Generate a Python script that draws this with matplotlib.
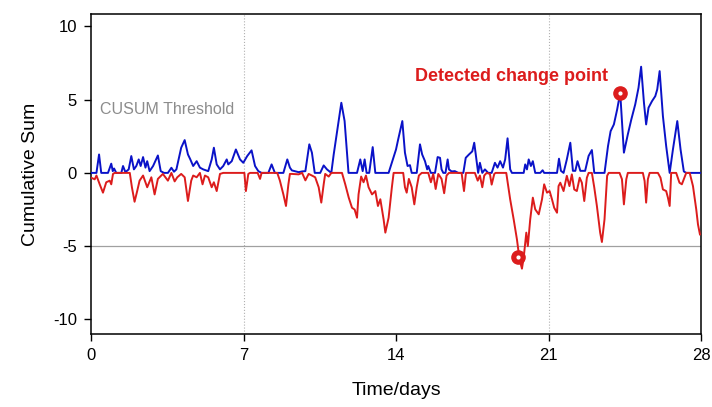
"""CUSUM chart: upper and lower cumulative sums over 28 days with detected change points."""

import matplotlib

matplotlib.use("Agg")
import matplotlib.pyplot as plt

plt.rcParams["font.family"] = ["Liberation Sans", "DejaVu Sans"]
plt.rcParams["axes.unicode_minus"] = False

# Upper CUSUM (blue).
upper_days = [
    0.01, 0.25, 0.37, 0.47, 0.78, 0.93, 1.00, 1.06, 1.16, 1.39, 1.47, 1.58, 1.73, 1.85,
    1.97, 2.08, 2.19, 2.28, 2.39, 2.50, 2.58, 2.69, 2.85, 3.07, 3.20, 3.35, 3.53, 3.69,
    3.81, 3.92, 4.14, 4.30, 4.45, 4.55, 4.69, 4.85, 5.00, 5.15, 5.38, 5.54, 5.64, 5.77,
    5.92, 6.07, 6.23, 6.30, 6.46, 6.65, 6.84, 6.99, 7.17, 7.37, 7.53, 7.68, 7.83, 8.14,
    8.29, 8.44, 8.83, 9.01, 9.13, 9.22, 9.53, 9.69, 9.84, 10.02, 10.14, 10.27, 10.52,
    10.68, 10.83, 11.03, 11.14, 11.49, 11.64, 11.82, 12.21, 12.36, 12.47, 12.56, 12.65,
    12.77, 12.93, 13.05, 13.66, 14.00, 14.10, 14.29, 14.41, 14.53, 14.64, 14.72, 14.95,
    15.10, 15.20, 15.33, 15.43, 15.48, 15.60, 15.79, 15.91, 16.02, 16.09, 16.17, 16.27,
    16.37, 16.43, 16.55, 16.70, 16.86, 17.09, 17.20, 17.35, 17.50, 17.59, 17.70, 17.77,
    17.85, 17.96, 18.08, 18.23, 18.39, 18.54, 18.66, 18.78, 18.91, 19.01, 19.12, 19.24,
    19.32, 19.86, 19.93, 20.01, 20.09, 20.19, 20.28, 20.39, 20.62, 20.73, 20.80, 21.39,
    21.48, 21.57, 21.69, 21.84, 22.00, 22.12, 22.23, 22.33, 22.46, 22.68, 22.84, 22.99,
    23.10, 23.57, 23.73, 23.85, 24.00, 24.15, 24.29, 24.46, 24.64, 24.80, 24.98, 25.13,
    25.25, 25.38, 25.48, 25.59, 25.75, 25.90, 25.99, 26.10, 26.25, 26.40, 26.56, 26.71,
    26.91, 27.06, 27.21, 27.32, 27.95,
]
upper_values = [
    0.00, 0.00, 1.26, 0.00, 0.00, 0.63, 0.12, 0.30, 0.00, 0.00, 0.47, 0.05, 0.24, 1.15,
    0.24, 0.47, 0.92, 0.47, 1.08, 0.36, 0.80, 0.12, 0.47, 1.19, 0.12, 0.00, 0.00, 0.35,
    0.08, 0.24, 1.72, 2.24, 1.26, 0.95, 0.47, 0.80, 0.36, 0.24, 0.12, 0.92, 1.72, 0.58,
    0.24, 0.47, 0.92, 0.58, 0.80, 1.60, 0.92, 0.69, 1.15, 1.54, 0.47, 0.12, 0.00, 0.00,
    0.58, 0.00, 0.00, 0.92, 0.36, 0.17, 0.05, 0.10, 0.12, 1.95, 1.38, 0.00, 0.00,
    0.51, 0.24, 0.00, 1.26, 4.79, 3.54, 0.00, 0.00, 0.92, 0.12, 0.92, 0.00,
    0.00, 1.76, 0.00, 0.00, 1.60, 2.29, 3.54, 1.38, 0.47, 0.53, 0.00, 0.00,
    1.95, 1.26, 0.80, 0.24, 0.47, 0.00, 0.00, 1.08, 1.03, 0.24, 0.00, 0.00,
    0.92, 0.24, 0.10, 0.12, 0.00, 0.00, 1.03, 1.26, 1.47, 2.06, 0.80, 0.00,
    0.69, 0.00, 0.24, 0.00, 0.00, 0.69, 0.36, 0.80, 0.36, 0.92, 2.36, 0.24,
    0.00, 0.00, 0.58, 0.24, 0.92, 0.47, 0.80, 0.00, 0.00, 0.18, 0.00, 0.00,
    0.97, 0.14, 0.00, 0.92, 2.06, 0.14, 0.14, 0.80, 0.14, 0.14, 1.16, 1.56,
    0.00, 0.00, 1.83, 2.85, 3.31, 4.33, 5.47, 1.38, 2.63, 3.65, 4.68, 5.81,
    7.25, 4.79, 3.31, 4.45, 4.90, 5.24, 5.70, 6.95, 3.88, 1.83, 0.00, 1.60,
    3.54, 1.60, 0.10, 0.00, 0.00,
]

# Lower CUSUM (red).
lower_days = [
    0.01, 0.17, 0.25, 0.40, 0.55, 0.70, 0.86, 0.93, 1.01, 1.09, 1.78, 1.88, 2.00, 2.12,
    2.23, 2.39, 2.58, 2.77, 2.92, 3.07, 3.30, 3.53, 3.69, 3.84, 3.96, 4.14, 4.30, 4.45,
    4.60, 4.69, 4.85, 5.00, 5.12, 5.23, 5.38, 5.54, 5.64, 5.77, 5.92, 6.07, 7.04, 7.11,
    7.22, 7.30, 7.65, 7.76, 7.83, 8.55, 8.67, 8.83, 8.95, 9.06, 9.13, 9.22, 9.53, 9.69,
    9.84, 9.99, 10.14, 10.29, 10.45, 10.57, 10.68, 10.75, 10.91, 11.03, 11.52, 11.67,
    11.83, 11.98, 12.10, 12.21, 12.28, 12.40, 12.51, 12.62, 12.74, 12.90, 13.05, 13.17,
    13.28, 13.43, 13.51, 13.66, 13.81, 13.89, 14.33, 14.41, 14.49, 14.59, 14.72, 14.84,
    14.95, 15.05, 15.18, 15.48, 15.60, 15.71, 15.82, 15.94, 16.09, 16.21, 16.32, 16.43,
    17.01, 17.12, 17.21, 17.62, 17.75, 17.85, 17.96, 18.05, 18.16, 18.31, 18.39, 18.51,
    18.57, 19.06, 19.24, 19.40, 19.55, 19.67, 19.78, 19.86, 19.98, 20.05, 20.16, 20.28,
    20.39, 20.55, 20.70, 20.80, 20.93, 21.05, 21.16, 21.26, 21.39, 21.46, 21.54, 21.69,
    21.84, 21.96, 22.07, 22.18, 22.30, 22.43, 22.53, 22.64, 22.76, 22.84, 22.99, 23.10,
    23.22, 23.37, 23.45, 23.57, 23.69, 23.76, 24.26, 24.37, 24.46, 24.57, 24.64, 25.33,
    25.41, 25.48, 25.56, 25.64, 26.02, 26.14, 26.25, 26.40, 26.48, 26.56, 26.63, 26.86,
    27.01, 27.12, 27.21, 27.32, 27.48, 27.63, 27.78, 27.86, 27.95,
]
lower_values = [
    -0.33, -0.44, -0.18, -0.78, -1.35, -0.64, -0.53, -0.78, -0.07, 0.00, 0.00, -1.00,
    -1.97, -1.24, -0.53, -0.18, -0.98, -0.30, -1.47, -0.41, -0.07, -0.53, 0.00, -0.58,
    -0.30, -0.07, -0.30, -1.92, -0.53, -0.18, -0.30, 0.00, -0.78, -0.18, -0.30, -0.98,
    -0.64, -1.24, -0.07, 0.00, 0.00, -1.24, -0.07, 0.00, 0.00, -0.41, 0.00, 0.00,
    -0.53, -1.47, -2.26, -0.78, -0.07, -0.07, -0.10, 0.00, -0.51, -0.07, -0.18, -0.30,
    -0.98, -2.03, -0.78, -0.07, -0.25, 0.00, 0.00, -0.78, -1.69, -2.38, -2.50, -3.06,
    -1.47, -0.25, -0.64, -0.18, -0.98, -1.47, -1.24, -2.26, -1.80, -3.17, -4.08, -3.06,
    -0.98, 0.00, 0.00, -0.98, -1.35, -0.41, -0.98, -2.15, -0.98, -0.18, 0.00, 0.00,
    -0.64, -0.07, -1.10, -0.07, -0.41, -1.39, -0.18, 0.00, 0.00, -1.24, 0.00, 0.00,
    -0.53, -0.18, -0.98, -0.18, 0.00, -0.07, -0.80, -0.07, 0.00, 0.00, -1.81, -3.17,
    -4.54, -5.90, -6.54, -5.79, -4.08, -5.00, -3.17, -1.69, -2.49, -2.83, -1.81, -0.78,
    -1.35, -1.24, -1.81, -2.38, -2.72, -0.90, -0.67, -1.24, -0.20, -0.90, -0.10, -1.13,
    -1.24, -0.33, -0.67, -1.92, -0.33, 0.00, 0.00, -1.00, -2.26, -4.08, -4.72, -3.17,
    -0.20, 0.00, 0.00, -0.43, -2.15, -0.43, 0.00, 0.00, -0.55, -2.03, -0.43, 0.00,
    0.00, -0.33, -1.13, -1.24, -1.69, -2.26, 0.00, 0.00, -0.67, -0.78, -0.43, 0.00,
    0.00, -0.90, -2.49, -3.52, -4.20,
]

# Detected change points (day, value).
change_days = [19.6, 24.29]
change_values = [-5.75, 5.47]

THRESHOLD = -5
X_TICKS = [0, 7, 14, 21, 28]
Y_TICKS = [-10, -5, 0, 5, 10]
WEEK_LINES = [7, 21]

BLUE = "#0a12c8"
RED = "#dc1c1c"

fig = plt.figure(figsize=(7.12, 4.07), dpi=100)
ax = fig.add_axes([0.1278, 0.1794, 0.8568, 0.7862])

for day in WEEK_LINES:
    ax.axvline(day, color="#b0b0b0", linestyle=":", linewidth=0.8, zorder=1)
ax.axhline(THRESHOLD, color="#a0a0a0", linewidth=0.9, zorder=1)

ax.plot(upper_days, upper_values, color=BLUE, linewidth=1.4, zorder=3)
ax.plot(lower_days, lower_values, color=RED, linewidth=1.4, zorder=4)

ax.plot(change_days, change_values, "o", color=RED, markersize=9.5, zorder=5)
ax.plot(change_days, change_values, "o", color="white", markersize=2, zorder=6)

ax.text(0.4, 4.3, "CUSUM Threshold", color="#8c8c8c", fontsize=11.5, va="center")
ax.text(14.85, 6.6, "Detected change point", color=RED, fontsize=13,
        fontweight="bold", va="center")

ax.set_xlim(0, 28)
ax.set_ylim(-11, 10.85)
ax.set_xticks(X_TICKS)
ax.set_yticks(Y_TICKS)
ax.tick_params(direction="out", length=5, width=1, labelsize=12, pad=5)
for side in ["top", "right", "left", "bottom"]:
    ax.spines[side].set_linewidth(1.1)

ax.set_xlabel("Time/days", fontsize=14, labelpad=14)
ax.set_ylabel("Cumulative Sum", fontsize=14, labelpad=10)

fig.savefig("out.png", dpi=100)
